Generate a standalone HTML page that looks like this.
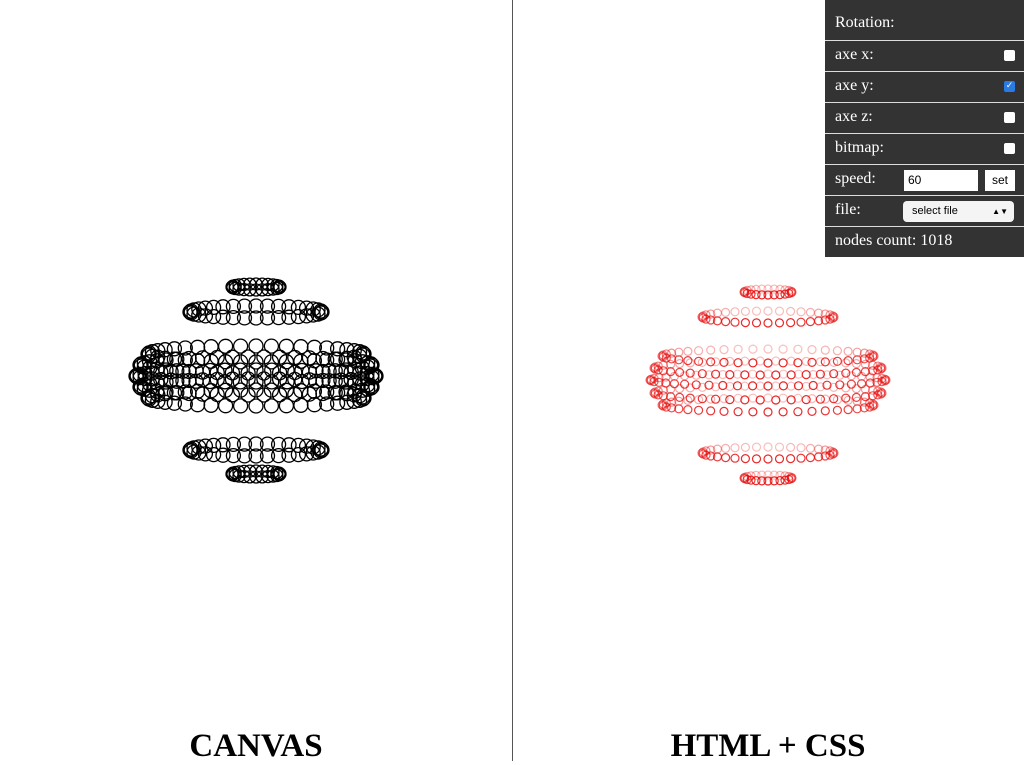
<!DOCTYPE html>
<html><head><style>
body{margin:0;width:1024px;height:761px;overflow:hidden;background:#fff;position:relative;font-family:"Liberation Serif",serif}
#div{position:absolute;left:512px;top:0;width:1px;height:761px;background:#555}
.t{position:absolute;top:728px;width:512px;text-align:center;font-weight:bold;font-size:33px}
#p{position:absolute;left:825px;top:0;width:199px;background:#333;color:#fff;font-size:16px}
.r{height:30px;border-top:1px solid #ddd;position:relative;line-height:28px;padding-left:10px}
.cb{position:absolute;right:9px;top:9px;width:11px;height:11px;background:#fff;border-radius:2px}
svg{position:absolute;left:0;top:0}
</style></head><body>
<svg id="s" width="1024" height="761"></svg>
<div id="div"></div>
<div class="t" style="left:0">CANVAS</div>
<div class="t" style="left:512px">HTML + CSS</div>
<div id="p">
<div style="height:40px;line-height:46px;padding-left:10px">Rotation:</div>
<div class="r">axe x:<span class="cb"></span></div>
<div class="r">axe y:<span class="cb" style="background:#2a7ae2;color:#fff;font-size:9px;line-height:11px;text-align:center;font-family:'DejaVu Sans'">✓</span></div>
<div class="r">axe z:<span class="cb"></span></div>
<div class="r">bitmap:<span class="cb"></span></div>
<div class="r">speed:<span style="position:absolute;left:79px;top:5px;width:74px;height:21px;background:#fff;color:#000;font:12px 'Liberation Sans',sans-serif;line-height:21px;padding-left:4px;box-sizing:border-box">60</span><span style="position:absolute;left:160px;top:5px;width:30px;height:21px;background:#fff;color:#000;font:12px 'Liberation Sans',sans-serif;line-height:21px;text-align:center">set</span></div>
<div class="r">file:<span style="position:absolute;left:78px;top:5px;width:111px;height:21px;background:#f4f4f4;border-radius:4px;color:#000;font:11px 'Liberation Sans',sans-serif;line-height:21px;padding-left:9px;box-sizing:border-box">select file<span style="position:absolute;right:6px;font-size:8px">▲▼</span></span></div>
<div class="r" style="height:30px">nodes count: 1018</div>
</div>
<script>
var s=document.getElementById('s'),h='';
function ring(cx,cy,a,b,n,r,red){for(var i=0;i<n;i++){var t=i/n*2*Math.PI,x=cx+a*Math.cos(t),y=cy+b*Math.sin(t);
if(red){var o=0.25+0.6*(Math.sin(t)+1)/2;h+='<circle cx="'+x.toFixed(1)+'" cy="'+y.toFixed(1)+'" r="'+r+'" fill="none" stroke="rgb(230,0,0)" stroke-opacity="'+o.toFixed(2)+'" stroke-width="1.2"/>';}
else h+='<circle cx="'+x.toFixed(1)+'" cy="'+y.toFixed(1)+'" r="'+r+'" fill="none" stroke="#000" stroke-width="1.3"/>';}}
var L=[[287,24,3,24,6],[312,66,6,36,7],[354,108,8,44,7],[365,116,8,46,7],[376,120,6,48,7],[387,116,8,46,7],[398,108,8,44,7],[450,66,6,36,7],[474,24,3,24,6]];
L.forEach(function(q){ring(256,q[0],q[1],q[2],q[3],q[4],false)});
var R=[[292,24,3,24,4],[317,66,6,36,4],[356,106,7,44,4],[368,114,7,46,4],[380,118,6,48,4],[393,114,7,46,4],[405,106,7,44,4],[453,66,6,36,4],[478,24,3,24,4]];
R.forEach(function(q){ring(768,q[0],q[1],q[2],q[3],q[4],true)});
s.innerHTML=h;
</script>
</body></html>
